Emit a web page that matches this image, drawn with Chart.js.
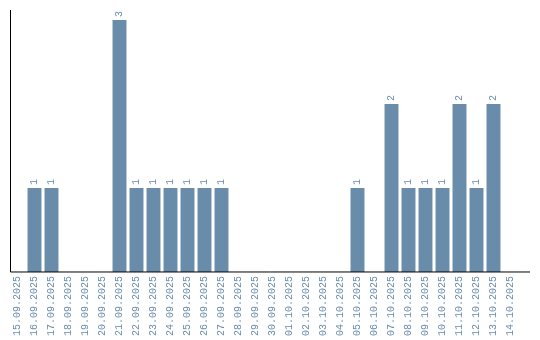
<!DOCTYPE html>
<html>
<head>
<meta charset="utf-8">
<script src="https://cdn.jsdelivr.net/npm/chart.js@4.4.1/dist/chart.umd.min.js"></script>
<style>
  body { margin: 0; background: #fff; }
</style>
</head>
<body>
<canvas id="days" width="540" height="340"></canvas>
<script>
const days = [
  '15.09.2025', '16.09.2025', '17.09.2025', '18.09.2025', '19.09.2025', '20.09.2025',
  '21.09.2025', '22.09.2025', '23.09.2025', '24.09.2025', '25.09.2025', '26.09.2025',
  '27.09.2025', '28.09.2025', '29.09.2025', '30.09.2025', '01.10.2025', '02.10.2025',
  '03.10.2025', '04.10.2025', '05.10.2025', '06.10.2025', '07.10.2025', '08.10.2025',
  '09.10.2025', '10.10.2025', '11.10.2025', '12.10.2025', '13.10.2025', '14.10.2025'
]
const counts = [
  0, 1, 1, 0, 0, 0,
  3, 1, 1, 1, 1, 1,
  1, 0, 0, 0, 0, 0,
  0, 0, 1, 0, 2, 1,
  1, 1, 2, 1, 2, 0
]

const barColor = '#6a8cab'
const monoFont = { family: 'Liberation Mono', size: 10 }

// подписи значений над столбцами, повернутые вертикально
const valueLabels = {
  id: 'valueLabels',
  afterDatasetsDraw(chart) {
    const ctx = chart.ctx
    const meta = chart.getDatasetMeta(0)
    ctx.save()
    ctx.fillStyle = barColor
    ctx.font = '10px "Liberation Mono"'
    ctx.textAlign = 'left'
    ctx.textBaseline = 'middle'
    meta.data.forEach((bar, i) => {
      if (!counts[i]) return
      ctx.save()
      ctx.translate(bar.x, bar.y - 3)
      ctx.rotate(-Math.PI / 2)
      ctx.fillText(String(counts[i]), 0, 0)
      ctx.restore()
    })
    ctx.restore()
  }
}

// ось X чуть длиннее области столбцов
const axisLines = {
  id: 'axisLines',
  afterDraw(chart) {
    const ctx = chart.ctx
    const a = chart.chartArea
    ctx.save()
    ctx.strokeStyle = '#000'
    ctx.lineWidth = 1
    ctx.beginPath()
    ctx.moveTo(a.left + 1.5, a.top)
    ctx.lineTo(a.left + 1.5, a.bottom)
    ctx.lineTo(530, a.bottom)
    ctx.stroke()
    ctx.restore()
  }
}

new Chart(document.getElementById('days'), {
  type: 'bar',
  data: {
    labels: days,
    datasets: [{
      data: counts,
      backgroundColor: barColor,
      barPercentage: 0.82,
      categoryPercentage: 1
    }]
  },
  options: {
    responsive: false,
    animation: false,
    layout: { padding: { left: 9, top: 10, right: 21, bottom: 0 } },
    plugins: { legend: { display: false }, tooltip: { enabled: false } },
    scales: {
      x: {
        grid: { display: false, drawTicks: false },
        border: { display: false },
        ticks: {
          color: barColor,
          font: monoFont,
          minRotation: 90,
          maxRotation: 90,
          autoSkip: false,
          padding: 4
        }
      },
      y: {
        display: false,
        min: 0,
        max: 3.12
      }
    }
  },
  plugins: [valueLabels, axisLines]
})
</script>
</body>
</html>
